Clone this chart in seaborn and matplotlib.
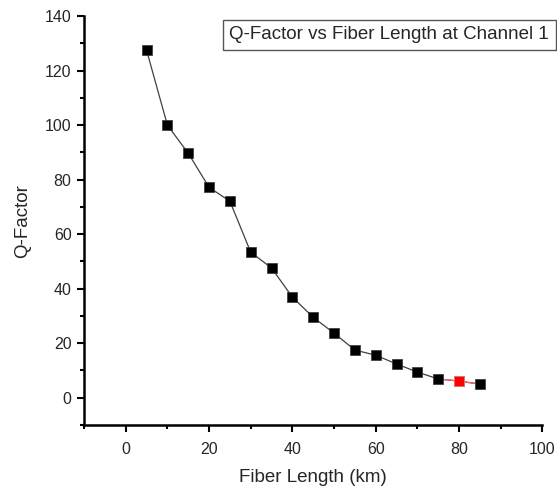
import matplotlib
matplotlib.use("Agg")
import matplotlib.pyplot as plt
import seaborn as sns
import pandas as pd
from matplotlib.ticker import MultipleLocator

fiber_length = [5, 10, 15, 20, 25, 30, 35, 40, 45, 50, 55, 60, 65, 70, 75, 80, 85]
q_factor = [127.5, 100.0, 89.7, 77.2, 72.1, 53.4, 47.6, 36.9, 29.5, 23.7, 17.5, 15.6, 12.4, 9.4, 6.9, 6.1, 5.0]
highlight_x = [80]
highlight_y = [6.1]

sns.set_style("ticks")
plt.rcParams['font.family'] = ['Liberation Sans', 'DejaVu Sans']

df = pd.DataFrame({"x": fiber_length, "y": q_factor})
hl = pd.DataFrame({"x": highlight_x, "y": highlight_y})

fig = plt.figure(figsize=(5.57, 4.90), dpi=100)
ax = fig.add_axes([0.151, 0.1327, 0.8226, 0.8343])

sns.lineplot(data=df, x="x", y="y", ax=ax, color="#404040", lw=0.9, zorder=2)
# red segments adjacent to highlighted point
seg = df[(df.x >= 75) & (df.x <= 85)]
sns.lineplot(data=seg, x="x", y="y", ax=ax, color="#ff6060", lw=0.9, zorder=2.5)
sns.scatterplot(data=df, x="x", y="y", ax=ax, marker="s", s=52, color="black",
                edgecolor="#333333", linewidth=0.5, zorder=3)
sns.scatterplot(data=hl, x="x", y="y", ax=ax, marker="s", s=52, color="red",
                edgecolor="#ff9090", linewidth=0.5, zorder=4)

ax.set_xlim(-10, 100)
ax.set_ylim(-10, 140)
ax.xaxis.set_major_locator(MultipleLocator(20))
ax.xaxis.set_minor_locator(MultipleLocator(10))
ax.yaxis.set_major_locator(MultipleLocator(20))
ax.yaxis.set_minor_locator(MultipleLocator(10))
ax.tick_params(which="major", direction="out", length=5, width=1.5, labelsize=11.5, color="black")
ax.tick_params(axis="x", which="major", pad=7)
ax.tick_params(axis="y", which="major", pad=4)
ax.tick_params(which="minor", direction="out", length=3, width=1.5, color="black")
for s in ["left", "bottom"]:
    ax.spines[s].set_linewidth(1.8)
    ax.spines[s].set_color("black")
sns.despine(ax=ax)

ax.set_xlabel("Fiber Length (km)", fontsize=13.5, labelpad=9)
ax.set_ylabel("Q-Factor", fontsize=13.5, labelpad=10)

fig.text(0.412, 0.929, "Q-Factor vs Fiber Length at Channel 1", fontsize=13.5,
         ha="left", va="center",
         bbox=dict(boxstyle="square,pad=0.35", facecolor="white", edgecolor="#555555", linewidth=1))

fig.savefig("out.png", dpi=100)
